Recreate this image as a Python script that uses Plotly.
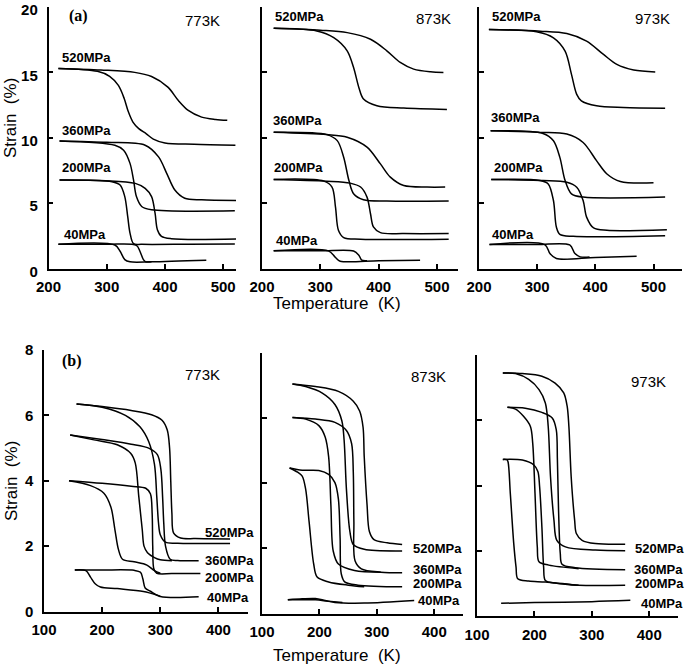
import plotly.graph_objects as go

W, H = 685, 667

# strain (%) vs temperature (K); each stress level has two branches ("hi" = transforms at higher T)
# (a) panels
a773 = {
    "520hi": ([217, 290, 348, 377, 405, 423, 440, 463, 487, 507], [15.3, 15.18, 15.0, 14.68, 13.87, 12.85, 12.09, 11.58, 11.4, 11.33]),
    "520lo": ([217, 284, 305, 320, 330, 337, 345, 355, 368, 380, 400, 450, 521], [15.3, 15.08, 14.7, 14.0, 13.0, 12.0, 11.2, 10.7, 10.3, 9.9, 9.6, 9.5, 9.43]),
    "360hi": ([219, 300, 366, 389, 403, 417, 434, 463, 523], [9.76, 9.65, 9.43, 8.54, 7.28, 6.0, 5.37, 5.25, 5.2]),
    "360lo": ([219, 314, 329, 340, 346, 351, 360, 377, 520], [9.76, 9.43, 9.05, 8.04, 6.77, 5.5, 4.74, 4.49, 4.41]),
    "200hi": ([219, 349, 366, 377, 383, 387, 394, 411, 523], [6.77, 6.51, 6.13, 5.5, 4.23, 2.97, 2.46, 2.28, 2.26]),
    "200lo": ([219, 309, 323, 331, 336, 340, 346, 360, 440, 520], [6.77, 6.64, 6.39, 5.5, 3.98, 2.71, 1.9, 1.85, 1.86, 1.88]),
    "40lo": ([217, 314, 323, 331, 340, 377, 471], [1.85, 1.8, 1.32, 0.68, 0.51, 0.51, 0.63]),
    "40hi": ([217, 300, 351, 357, 363, 367, 377], [1.85, 1.85, 1.77, 1.32, 0.68, 0.51, 0.51]),
}
a873 = {
    "520hi": ([220, 300, 346, 386, 414, 437, 460, 489, 511], [18.37, 18.22, 18.04, 17.53, 16.65, 15.76, 15.25, 15.04, 14.99]),
    "520lo": ([220, 294, 323, 346, 357, 366, 374, 397, 443, 517], [18.37, 18.17, 17.66, 16.65, 15.37, 13.85, 12.96, 12.45, 12.27, 12.17]),
    "360hi": ([220, 311, 346, 380, 403, 420, 443, 483, 514], [10.42, 10.24, 10.04, 9.28, 8.0, 6.99, 6.35, 6.23, 6.23]),
    "360lo": ([220, 311, 329, 340, 349, 357, 374, 414, 520], [10.42, 10.24, 9.78, 8.51, 6.73, 5.72, 5.26, 5.16, 5.16]),
    "200hi": ([220, 311, 351, 369, 380, 386, 391, 403, 443, 520], [6.81, 6.68, 6.53, 6.23, 5.46, 4.19, 3.18, 2.74, 2.67, 2.67]),
    "200lo": ([220, 306, 320, 326, 331, 340, 369, 520], [6.81, 6.68, 6.23, 4.7, 2.92, 2.36, 2.24, 2.24]),
    "40lo": ([220, 314, 326, 334, 400, 471], [1.35, 1.35, 0.84, 0.56, 0.6, 0.64]),
    "40hi": ([220, 300, 357, 366, 371, 380], [1.35, 1.35, 1.34, 1.02, 0.64, 0.6]),
}
a973 = {
    "520hi": ([217, 305, 351, 385, 414, 437, 466, 503], [18.27, 18.15, 17.97, 17.39, 16.37, 15.61, 15.18, 15.03]),
    "520lo": ([217, 299, 328, 348, 359, 368, 376, 402, 448, 520], [18.27, 18.1, 17.64, 16.62, 14.85, 13.32, 12.82, 12.44, 12.31, 12.26]),
    "360hi": ([220, 305, 351, 379, 402, 420, 443, 500], [10.53, 10.41, 10.28, 9.64, 8.25, 7.23, 6.65, 6.55]),
    "360lo": ([220, 310, 328, 339, 348, 359, 379, 520], [10.53, 10.33, 9.77, 8.5, 6.73, 5.71, 5.46, 5.46]),
    "200hi": ([221, 310, 351, 368, 379, 385, 397, 420, 523], [6.8, 6.73, 6.6, 6.22, 5.2, 3.93, 3.1, 2.92, 2.97]),
    "200lo": ([221, 305, 319, 328, 333, 339, 362, 520], [6.8, 6.73, 6.47, 5.2, 3.17, 2.61, 2.46, 2.51]),
    "40lo": ([218, 313, 322, 333, 400, 471], [1.83, 1.83, 1.14, 0.76, 0.85, 0.94]),
    "40hi": ([218, 300, 356, 365, 374, 390], [1.83, 1.83, 1.8, 1.14, 0.89, 0.87]),
}
# (b) panels
b773 = {
    "520hi": ([156, 200, 250, 285, 303, 312, 316, 318, 320, 323, 335, 360, 420], [6.35, 6.27, 6.15, 6.02, 5.85, 5.55, 5.0, 4.0, 3.0, 2.4, 2.25, 2.23, 2.22]),
    "520lo": ([156, 200, 240, 265, 280, 290, 294, 297, 300, 309, 330, 420], [6.35, 6.25, 6.0, 5.65, 5.2, 4.5, 3.5, 2.7, 2.35, 2.12, 2.09, 2.08]),
    "360hi": ([145, 200, 250, 280, 295, 301, 304, 306, 309, 317, 330, 366], [5.4, 5.26, 5.12, 5.0, 4.8, 4.35, 3.5, 2.7, 2.0, 1.6, 1.56, 1.55]),
    "360lo": ([145, 186, 226, 249, 257, 263, 269, 272, 278, 290, 300, 320], [5.4, 5.25, 5.1, 4.84, 4.54, 3.52, 2.5, 2.0, 1.8, 1.65, 1.58, 1.55]),
    "200hi": ([143, 200, 250, 275, 283, 286, 287, 289, 294, 320, 369], [4.0, 3.92, 3.83, 3.77, 3.6, 3.0, 2.0, 1.3, 1.17, 1.16, 1.16]),
    "200lo": ([143, 180, 203, 215, 222, 228, 235, 255, 277, 290, 300], [4.0, 3.85, 3.62, 3.2, 2.5, 1.9, 1.6, 1.52, 1.42, 1.25, 1.17]),
    "40hi": ([153, 200, 255, 266, 270, 274, 283, 300, 366], [1.27, 1.27, 1.26, 1.2, 1.0, 0.72, 0.62, 0.46, 0.45]),
    "40lo": ([153, 172, 180, 188, 197, 226, 271, 294, 300], [1.27, 1.25, 1.05, 0.85, 0.75, 0.7, 0.61, 0.5, 0.46]),
}
b873 = {
    "520hi": ([153, 193, 233, 259, 270, 276, 278, 283, 287, 295, 318, 344], [7.05, 6.97, 6.82, 6.52, 6.22, 5.72, 4.82, 3.32, 2.52, 2.27, 2.17, 2.12]),
    "520lo": ([153, 176, 205, 227, 239, 243, 247, 253, 259, 278, 344], [7.05, 6.97, 6.77, 6.42, 5.92, 5.32, 3.82, 2.52, 2.12, 1.97, 1.92]),
    "360hi": ([153, 193, 227, 247, 256, 259, 260, 262, 273, 307, 344], [6.02, 5.97, 5.87, 5.62, 5.22, 4.32, 2.82, 1.62, 1.37, 1.27, 1.25]),
    "360lo": ([153, 176, 199, 210, 216, 220, 224, 233, 261, 307], [6.02, 5.97, 5.77, 5.42, 4.82, 3.32, 1.92, 1.52, 1.32, 1.27]),
    "200hi": ([148, 170, 199, 216, 227, 233, 236, 238, 244, 267, 344], [4.47, 4.4, 4.39, 4.27, 4.02, 3.52, 2.32, 1.22, 0.97, 0.87, 0.82]),
    "200lo": ([148, 162, 170, 176, 182, 190, 196, 216, 250, 278], [4.47, 4.34, 4.22, 3.82, 2.82, 1.52, 1.12, 0.97, 0.87, 0.82]),
    "40hi": ([145, 170, 193, 210, 227, 278, 365], [0.42, 0.45, 0.46, 0.4, 0.34, 0.32, 0.4]),
    "40lo": ([145, 193, 215, 240], [0.42, 0.42, 0.38, 0.34]),
}
b973 = {
    "520hi": ([145, 179, 213, 236, 251, 257, 260, 264, 270, 273, 283, 306, 358], [7.45, 7.43, 7.35, 7.14, 6.84, 6.43, 5.81, 4.27, 2.94, 2.53, 2.32, 2.22, 2.2]),
    "520lo": ([145, 167, 190, 208, 219, 224, 228, 234, 239, 254, 306, 358], [7.45, 7.43, 7.25, 6.94, 6.53, 5.81, 4.27, 2.94, 2.32, 2.12, 2.02, 2.0]),
    "360hi": ([153, 184, 213, 231, 238, 240, 242, 245, 248, 271, 358], [6.4, 6.37, 6.24, 6.07, 5.71, 4.79, 3.25, 1.92, 1.59, 1.48, 1.42]),
    "360lo": ([153, 167, 181, 193, 197, 201, 205, 208, 225, 277], [6.4, 6.34, 6.12, 5.81, 5.3, 3.76, 2.12, 1.66, 1.56, 1.45]),
    "200hi": ([145, 179, 199, 206, 209, 213, 216, 219, 236, 277, 358], [4.8, 4.78, 4.63, 4.43, 3.97, 2.73, 1.5, 1.09, 1.01, 0.94, 0.94]),
    "200lo": ([145, 152, 154, 158, 164, 168, 171, 190, 219, 277], [4.8, 4.79, 4.73, 3.76, 2.22, 1.5, 1.14, 1.07, 1.04, 0.94]),
    "40hi": ([142, 200, 300, 367], [0.39, 0.41, 0.44, 0.48]),
}

panel_data = [a773, a873, a973, b773, b873, b973]
temp_labels = ["773K", "873K", "973K", "773K", "873K", "973K"]
stress_labels = ["520MPa", "360MPa", "200MPa", "40MPa"]

# panel frames in window pixels: (x0, x1, y_bottom, y_top), axis ranges
frames = [
    (48.5, 236, 268.5, 7, [200, 522], [0, 20]),
    (262, 458, 268.5, 7, [200, 536], [0, 20]),
    (479, 682, 268.5, 7, [200, 549], [0, 20]),
    (44, 247.5, 611.5, 350, [100, 450], [0, 8]),
    (262, 463, 613.5, 353, [100, 450], [0, 8]),
    (477, 678, 616, 355, [100, 450], [0, 8]),
]
xticks = [[200, 300, 400, 500]] * 3 + [[100, 200, 300, 400]] * 3
yticks = [[0, 5, 10, 15, 20]] * 3 + [[0, 2, 4, 6, 8]] * 3

# label positions (window px centres)
temp_pos = [(202, 20), (433, 18), (652, 18), (202, 374), (428, 376), (648, 381)]
stress_pos = [
    [(87, 58), (86, 130), (87, 168), (85, 235)],
    [(299, 17), (297, 120), (298, 168), (297, 240)],
    [(516, 17), (515, 118), (518, 168), (513, 235)],
    [(229, 532), (229, 560), (229, 577), (228, 597)],
    [(437, 548), (437, 569), (437, 583), (439, 600)],
    [(659, 548), (658, 569), (659, 583), (662, 603)],
]


def px(x):
    return x / W


def py(y):
    return 1 - y / H


def label(x, y, text, font, **kw):
    return dict(x=px(x), y=py(y), xref="paper", yref="paper", text=text, showarrow=False,
                xanchor="center", yanchor="middle", font=font, **kw)


fig = go.Figure()
layout = {}
annotations = []
tick_font = dict(family="Liberation Sans", size=15, color="black", weight="bold")

for i, curves in enumerate(panel_data):
    n = i + 1
    xa = "x" if n == 1 else f"x{n}"
    ya = "y" if n == 1 else f"y{n}"
    for name, (t, s) in curves.items():
        fig.add_trace(go.Scatter(
            x=t, y=s, mode="lines", xaxis=xa, yaxis=ya, showlegend=False,
            line=dict(color="black", width=1.5, shape="spline", smoothing=0.9),
            hoverinfo="skip"
        ))
    x0, x1, yb, yt, xr, yr = frames[i]
    left = i in (0, 3)
    layout[f"xaxis{n}"] = dict(
        domain=[px(x0), px(x1)], range=xr, anchor=ya, showgrid=False, zeroline=False,
        showline=True, linecolor="black", linewidth=1.5, ticks="inside", ticklen=5,
        tickwidth=1.5, tickcolor="black", tickvals=xticks[i], tickfont=tick_font,
        ticklabelstandoff=4, automargin=False, ticklabeloverflow="allow",
    )
    layout[f"yaxis{n}"] = dict(
        domain=[py(yb), py(yt)], range=yr, anchor=xa, showgrid=False, zeroline=False,
        showline=True, linecolor="black", linewidth=1.5, ticks="inside", ticklen=5,
        tickwidth=1.5, tickcolor="black", tickvals=yticks[i], tickfont=tick_font,
        showticklabels=left, ticklabelstandoff=6, automargin=False, ticklabeloverflow="allow",
        ticklabelshift=3 if i == 0 else 0,
    )
    tx, ty = temp_pos[i]
    annotations.append(label(tx, ty, temp_labels[i], dict(family="Liberation Sans", size=15, color="black")))
    for lab, (sx, sy) in zip(stress_labels, stress_pos[i]):
        annotations.append(label(sx, sy, lab, dict(family="Liberation Sans", size=13, color="black", weight="bold")))

for txt, (x, y) in [("(a)", (78, 16)), ("(b)", (72, 361))]:
    annotations.append(label(x, y, txt, dict(family="Liberation Serif", size=16, color="black", weight="bold")))
for y in (304, 655):
    annotations.append(label(337, y, "Temperature  (K)", dict(family="Liberation Sans", size=17, color="black")))
for y in (118, 481):
    annotations.append(label(11, y, "Strain  (%)", dict(family="Liberation Sans", size=17, color="black"), textangle=-90))

fig.update_layout(
    width=W, height=H, margin=dict(l=0, r=0, t=0, b=0),
    paper_bgcolor="white", plot_bgcolor="white",
    annotations=annotations, **layout
)
# drop the browser's default body margin so the figure sits at the window corner
fig.write_html("out.html", config={"displayModeBar": False},
               post_script="document.body.style.margin='0';")
